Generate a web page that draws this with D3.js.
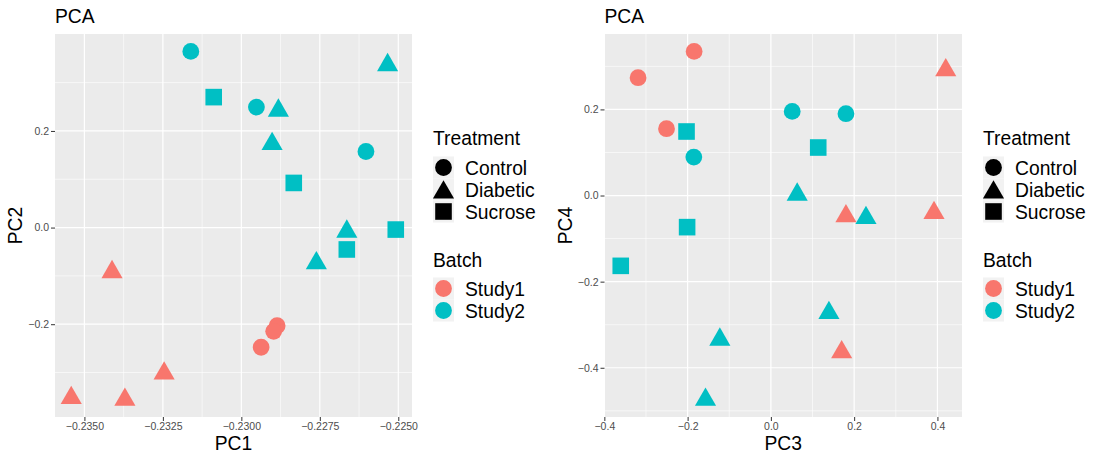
<!DOCTYPE html>
<html>
<head>
<meta charset="utf-8">
<script src="https://cdn.jsdelivr.net/npm/d3@7"></script>
<style>
  body { margin: 0; background: #fff; }
  svg text { font-family: "Liberation Sans", Arial, sans-serif; }
</style>
</head>
<body>
<div id="chart"></div>
<script>
// legend levels
const treatments = ["Control", "Diabetic", "Sucrose"];
const batches = ["Study1", "Study2"];
const batchColors = ["#F8766D", "#00BFC4"];

// panel 1: PC1 vs PC2
const p1Batch = ["Study2","Study2","Study2","Study2","Study2","Study2","Study2","Study2","Study2","Study2","Study2","Study2",
                 "Study1","Study1","Study1","Study1","Study1","Study1","Study1"];
const p1Treat = ["Control","Sucrose","Control","Diabetic","Diabetic","Control","Sucrose","Diabetic","Diabetic","Sucrose","Sucrose","Diabetic",
                 "Diabetic","Control","Control","Control","Diabetic","Diabetic","Diabetic"];
const pc1 = [-0.23161, -0.23088, -0.22952, -0.22882, -0.22902, -0.22603, -0.22833, -0.22534, -0.22664, -0.22508, -0.22664, -0.22761,
             -0.23412, -0.22886, -0.22897, -0.22937, -0.23246, -0.23542, -0.23371];
const pc2 = [0.3646, 0.2700, 0.2494, 0.2422, 0.1733, 0.1574, 0.0924, 0.3364, -0.0082, -0.0041, -0.0453, -0.0735,
             -0.0920, -0.2031, -0.2148, -0.2477, -0.3018, -0.3527, -0.3560];
const pc1Ticks = [-0.2350, -0.2325, -0.2300, -0.2275, -0.2250];
const pc2Ticks = [-0.2, 0.0, 0.2];

// panel 2: PC3 vs PC4
const p2Batch = ["Study1","Study1","Study1","Study1","Study1","Study1","Study1",
                 "Study2","Study2","Study2","Study2","Study2","Study2","Study2","Study2","Study2","Study2","Study2","Study2"];
const p2Treat = ["Control","Control","Control","Diabetic","Diabetic","Diabetic","Diabetic",
                 "Control","Control","Control","Sucrose","Sucrose","Sucrose","Sucrose","Diabetic","Diabetic","Diabetic","Diabetic","Diabetic"];
const pc3 = [-0.1844, -0.3190, -0.2507, 0.4200, 0.1803, 0.3918, 0.1700,
             0.0512, 0.1803, -0.1851, -0.2026, 0.1137, -0.2012, -0.3606, 0.0632, 0.2284, 0.1394, -0.1226, -0.1570];
const pc4 = [0.3347, 0.2736, 0.1552, 0.2913, -0.0479, -0.0402, -0.3638,
             0.1954, 0.1900, 0.0892, 0.1487, 0.1115, -0.0734, -0.1633, 0.0023, -0.0518, -0.2725, -0.3345, -0.4739];
const pc3Ticks = [-0.4, -0.2, 0.0, 0.2, 0.4];
const pc4Ticks = [-0.4, -0.2, 0.0, 0.2];

const width = 1093, height = 458;
const fs = 19.3;
const svg = d3.select("#chart").append("svg")
    .attr("width", width)
    .attr("height", height);

function shapePath(t, cx, cy) {
    if (t === "Control") {
        let r = 8.4;
        return "M" + (cx - r) + "," + cy + "a" + r + "," + r + " 0 1,0 " + (2 * r) + ",0a" + r + "," + r + " 0 1,0 " + (-2 * r) + ",0Z";
    }
    if (t === "Diabetic") {
        let r = 12.2, h = r * Math.sqrt(3) / 2;
        return "M" + cx + "," + (cy - r) + "L" + (cx + h) + "," + (cy + r / 2) + "L" + (cx - h) + "," + (cy + r / 2) + "Z";
    }
    let s = 8.3;
    return "M" + (cx - s) + "," + (cy - s) + "h" + (2 * s) + "v" + (2 * s) + "h" + (-2 * s) + "Z";
}

function expand(vals) {
    let ext = d3.extent(vals), pad = (ext[1] - ext[0]) * 0.05;
    return [ext[0] - pad, ext[1] + pad];
}

function drawPanel(cfg) {
    let g = svg.append("g");
    let x = d3.scaleLinear().domain(expand(cfg.xs)).range([cfg.left, cfg.right]);
    let y = d3.scaleLinear().domain(expand(cfg.ys)).range([cfg.bottom, cfg.top]);

    g.append("rect")
        .attr("x", cfg.left).attr("y", cfg.top)
        .attr("width", cfg.right - cfg.left).attr("height", cfg.bottom - cfg.top)
        .attr("fill", "#EBEBEB");

    // minor grid at midpoints of the breaks
    let xStep = cfg.xTicks[1] - cfg.xTicks[0], yStep = cfg.yTicks[1] - cfg.yTicks[0];
    let xMinor = [], yMinor = [];
    for (let v = cfg.xTicks[0] - xStep / 2; v <= x.domain()[1]; v += xStep) if (v >= x.domain()[0]) xMinor.push(v);
    for (let v = cfg.yTicks[0] - yStep * 1.5; v <= y.domain()[1]; v += yStep) if (v >= y.domain()[0]) yMinor.push(v);

    g.selectAll(".xminor").data(xMinor).enter().append("line")
        .attr("x1", d => x(d)).attr("x2", d => x(d))
        .attr("y1", cfg.top).attr("y2", cfg.bottom)
        .attr("stroke", "#fff").attr("stroke-width", 0.6);
    g.selectAll(".yminor").data(yMinor).enter().append("line")
        .attr("y1", d => y(d)).attr("y2", d => y(d))
        .attr("x1", cfg.left).attr("x2", cfg.right)
        .attr("stroke", "#fff").attr("stroke-width", 0.6);
    g.selectAll(".xmajor").data(cfg.xTicks).enter().append("line")
        .attr("x1", d => x(d)).attr("x2", d => x(d))
        .attr("y1", cfg.top).attr("y2", cfg.bottom)
        .attr("stroke", "#fff").attr("stroke-width", 1.2);
    g.selectAll(".ymajor").data(cfg.yTicks).enter().append("line")
        .attr("y1", d => y(d)).attr("y2", d => y(d))
        .attr("x1", cfg.left).attr("x2", cfg.right)
        .attr("stroke", "#fff").attr("stroke-width", 1.2);

    // axes
    let xAxis = d3.axisBottom(x).tickValues(cfg.xTicks).tickFormat(cfg.xFmt).tickSize(4).tickPadding(2);
    let yAxis = d3.axisLeft(y).tickValues(cfg.yTicks).tickFormat(d3.format(".1f")).tickSize(4).tickPadding(2);
    let xa = g.append("g").attr("transform", "translate(0," + cfg.bottom + ")").call(xAxis);
    let ya = g.append("g").attr("transform", "translate(" + cfg.left + ",0)").call(yAxis);
    [xa, ya].forEach(a => {
        a.select(".domain").remove();
        a.selectAll("line").attr("stroke", "#333").attr("stroke-width", 1);
        a.selectAll("text").attr("fill", "#4D4D4D").attr("font-size", 10.5)
            .attr("font-family", "Liberation Sans, Arial, sans-serif");
    });

    // points
    g.selectAll(".pt").data(cfg.xs.map((v, i) => i)).enter().append("path")
        .attr("d", i => shapePath(cfg.treat[i], x(cfg.xs[i]), y(cfg.ys[i])))
        .attr("fill", i => batchColors[batches.indexOf(cfg.batch[i])]);

    // titles
    g.append("text").attr("x", cfg.left).attr("y", 23)
        .attr("font-size", fs).attr("fill", "#000").text("PCA");
    g.append("text").attr("x", (cfg.left + cfg.right) / 2).attr("y", 450)
        .attr("text-anchor", "middle").attr("font-size", fs).attr("fill", "#000").text(cfg.xTitle);
    g.append("text")
        .attr("transform", "translate(" + (cfg.left - 33) + "," + ((cfg.top + cfg.bottom) / 2) + ") rotate(-90)")
        .attr("text-anchor", "middle").attr("font-size", fs).attr("fill", "#000").text(cfg.yTitle);

    // legend
    let lx = cfg.legendX;
    g.append("text").attr("x", lx).attr("y", 145).attr("font-size", fs).text("Treatment");
    treatments.forEach((t, i) => {
        let cy = 167.5 + i * 22;
        g.append("rect").attr("x", lx).attr("y", cy - 11).attr("width", 21).attr("height", 22).attr("fill", "#F2F2F2");
        g.append("path").attr("d", shapePath(t, lx + 10.5, cy + (t === "Diabetic" ? 3 : 0))).attr("fill", "#000");
        g.append("text").attr("x", lx + 32).attr("y", cy + 7.5).attr("font-size", fs).text(t);
    });
    g.append("text").attr("x", lx).attr("y", 267).attr("font-size", fs).text("Batch");
    batches.forEach((b, i) => {
        let cy = 288.5 + i * 22;
        g.append("rect").attr("x", lx).attr("y", cy - 11).attr("width", 21).attr("height", 22).attr("fill", "#F2F2F2");
        g.append("path").attr("d", shapePath("Control", lx + 10.5, cy)).attr("fill", batchColors[i]);
        g.append("text").attr("x", lx + 32).attr("y", cy + 7.5).attr("font-size", fs).text(b);
    });
}

drawPanel({
    xs: pc1, ys: pc2, batch: p1Batch, treat: p1Treat,
    xTicks: pc1Ticks, yTicks: pc2Ticks, xFmt: d3.format(".4f"),
    xTitle: "PC1", yTitle: "PC2",
    left: 55, right: 412, top: 34, bottom: 417, legendX: 433
});
drawPanel({
    xs: pc3, ys: pc4, batch: p2Batch, treat: p2Treat,
    xTicks: pc3Ticks, yTicks: pc4Ticks, xFmt: d3.format(".1f"),
    xTitle: "PC3", yTitle: "PC4",
    left: 604.5, right: 962, top: 34, bottom: 417, legendX: 983
});
</script>
</body>
</html>
